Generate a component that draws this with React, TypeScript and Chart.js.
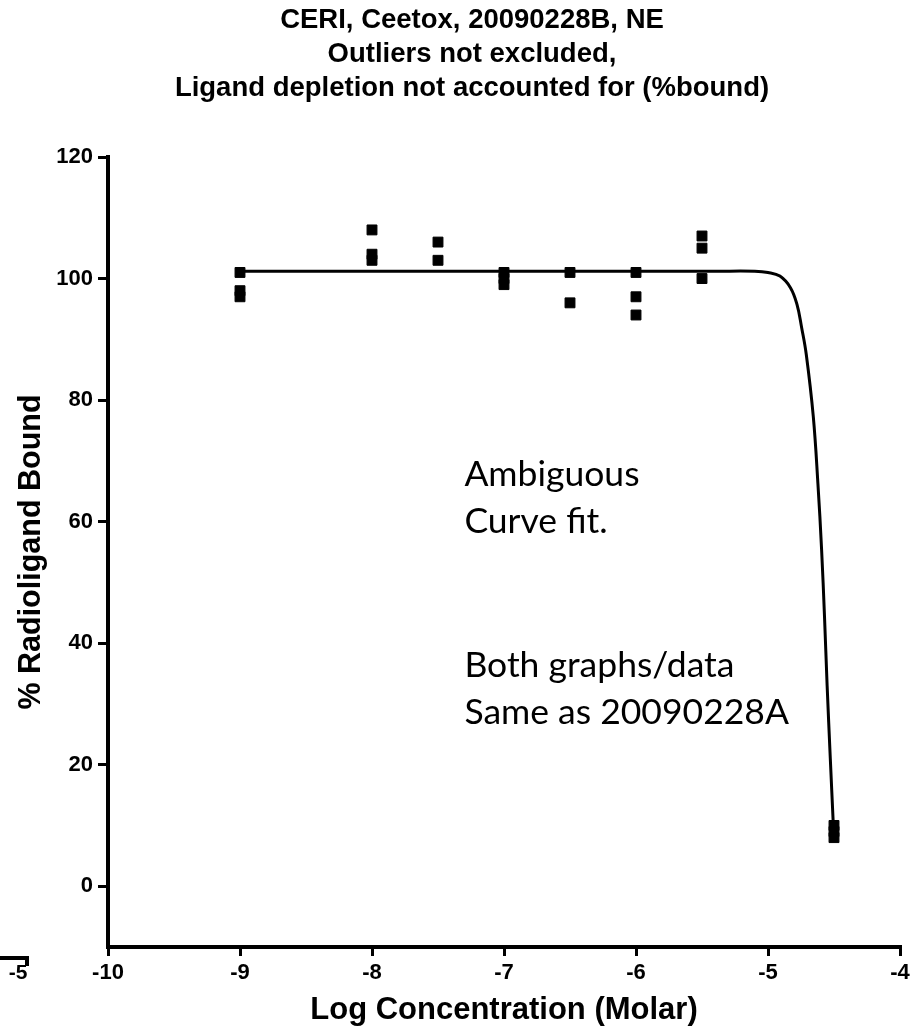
import React, { useEffect, useRef } from "react";
import { Chart, registerables } from "chart.js";

Chart.register(...registerables);

// ---------- data ----------
const titleLines = [
  "CERI, Ceetox, 20090228B, NE",
  "Outliers not excluded,",
  "Ligand depletion not accounted for (%bound)",
];
const xAxisTitle = "Log Concentration (Molar)";
const yAxisTitle = "% Radioligand Bound";

const logConc = [-9, -8, -7.5, -7, -6.5, -6, -5.5, -4.5];
const rep1 = [101, 108, 106, 101, 101, 101, 107, 10];
const rep2 = [98, 104, 103, 100, 96, 97, 105, 9];
const rep3 = [97, 103, null, 99, null, 94, 100, 8];

const curveX = [-9, -5.4, -5.1, -5.0, -4.91, -4.83, -4.78, -4.745, -4.71, -4.657, -4.622, -4.594, -4.572, -4.552, -4.528, -4.506];
const curveY = [101.2, 101.2, 101.2, 101.0, 100.4, 98.5, 95.7, 91.9, 87.5, 77.3, 66.3, 55.4, 44.4, 33, 21, 10.5];

const xTicks = [-10, -9, -8, -7, -6, -5, -4];
const yTicks = [0, 20, 40, 60, 80, 100, 120];

const noteLinesA = ["Ambiguous", "Curve fit."];
const noteLinesB = ["Both graphs/data", "Same as 20090228A"];
const strayLabel = "-5";

const BOLD = '"Liberation Sans", Arial, sans-serif';

const textPlugin = {
  id: "textPlugin",
  afterDraw(chart: any) {
    const ctx = chart.ctx;
    const xs = chart.scales.x;
    const ys = chart.scales.y;
    ctx.save();
    ctx.fillStyle = "#000";
    // title
    ctx.font = `bold 27.5px ${BOLD}`;
    ctx.textAlign = "center";
    ctx.textBaseline = "alphabetic";
    const tb = [28, 62, 96];
    titleLines.forEach((t, i) => ctx.fillText(t, 472, tb[i]));
    // notes
    ctx.font = `35.5px Lato, "Open Sans", sans-serif`;
    ctx.textAlign = "left";
    const nx = xs.getPixelForValue(-7.3);
    const aY = [65.9, 58.2];
    const bY = [34.4, 26.7];
    noteLinesA.forEach((t, i) => ctx.fillText(t, nx, ys.getPixelForValue(aY[i])));
    noteLinesB.forEach((t, i) => ctx.fillText(t, nx, ys.getPixelForValue(bY[i])));
    // stray mark bottom-left
    ctx.strokeStyle = "#000";
    ctx.lineWidth = 4;
    ctx.beginPath();
    ctx.moveTo(0, 958);
    ctx.lineTo(27, 958);
    ctx.lineTo(27, 966);
    ctx.stroke();
    ctx.font = `bold 21px ${BOLD}`;
    ctx.textAlign = "center";
    ctx.fillText(strayLabel, 18, 979);
    ctx.restore();
  },
};

export default function App() {
  const ref = useRef<HTMLCanvasElement | null>(null);
  useEffect(() => {
    if (!ref.current) return;
    const pts: { x: number; y: number }[] = [];
    [rep1, rep2, rep3].forEach((rep) =>
      rep.forEach((v, i) => {
        if (v !== null && v !== undefined) pts.push({ x: logConc[i], y: v as number });
      })
    );
    const curve = curveX.map((x, i) => ({ x, y: curveY[i] }));
    const tickFont = { family: BOLD, size: 22, weight: "bold" as const };
    const chart = new Chart(ref.current, {
      type: "scatter",
      data: {
        datasets: [
          {
            type: "scatter",
            data: pts,
            pointStyle: "rect",
            pointRadius: 7,
            backgroundColor: "#000",
            borderColor: "#000",
            borderWidth: 1,
          } as any,
          {
            type: "line",
            data: curve,
            borderColor: "#000",
            borderWidth: 3,
            pointRadius: 0,
            fill: false,
            tension: 0.4,
          } as any,
        ],
      },
      options: {
        responsive: false,
        animation: false,
        events: [],
        layout: { padding: { top: 157, left: 0, right: 24, bottom: 0 } },
        plugins: { legend: { display: false }, tooltip: { enabled: false }, title: { display: false } },
        scales: {
          x: {
            type: "linear",
            min: -10,
            max: -4,
            afterBuildTicks: (s: any) => {
              s.ticks = xTicks.map((v) => ({ value: v }));
            },
            afterFit: (s: any) => {
              s.height = 87;
            },
            ticks: { color: "#000", font: tickFont, padding: 4, maxRotation: 0 },
            grid: { drawOnChartArea: false, drawTicks: true, tickLength: 9, lineWidth: 3, color: "#000" },
            border: { display: true, width: 4, color: "#000" },
            title: {
              display: true,
              text: xAxisTitle,
              color: "#000",
              font: { family: BOLD, size: 31, weight: "bold" },
              padding: { top: 0, bottom: 5 },
            },
          },
          y: {
            type: "linear",
            min: -10,
            max: 120,
            afterBuildTicks: (s: any) => {
              s.ticks = yTicks.map((v) => ({ value: v }));
            },
            afterFit: (s: any) => {
              s.width = 108;
            },
            ticks: { color: "#000", font: tickFont, padding: 5 },
            grid: { drawOnChartArea: false, drawTicks: true, tickLength: 10, lineWidth: 3, color: "#000" },
            border: { display: true, width: 4, color: "#000" },
            title: {
              display: true,
              text: yAxisTitle,
              color: "#000",
              font: { family: BOLD, size: 30.5, weight: "bold" },
              padding: { top: 13, bottom: 0 },
            },
          },
        },
      },
      plugins: [textPlugin],
    });
    return () => chart.destroy();
  }, []);
  return (
    <div style={{ position: "absolute", left: 0, top: 0, width: 924, height: 1034, background: "#fff" }}>
      <canvas ref={ref} width={924} height={1034} style={{ width: 924, height: 1034, display: "block" }} />
    </div>
  );
}
